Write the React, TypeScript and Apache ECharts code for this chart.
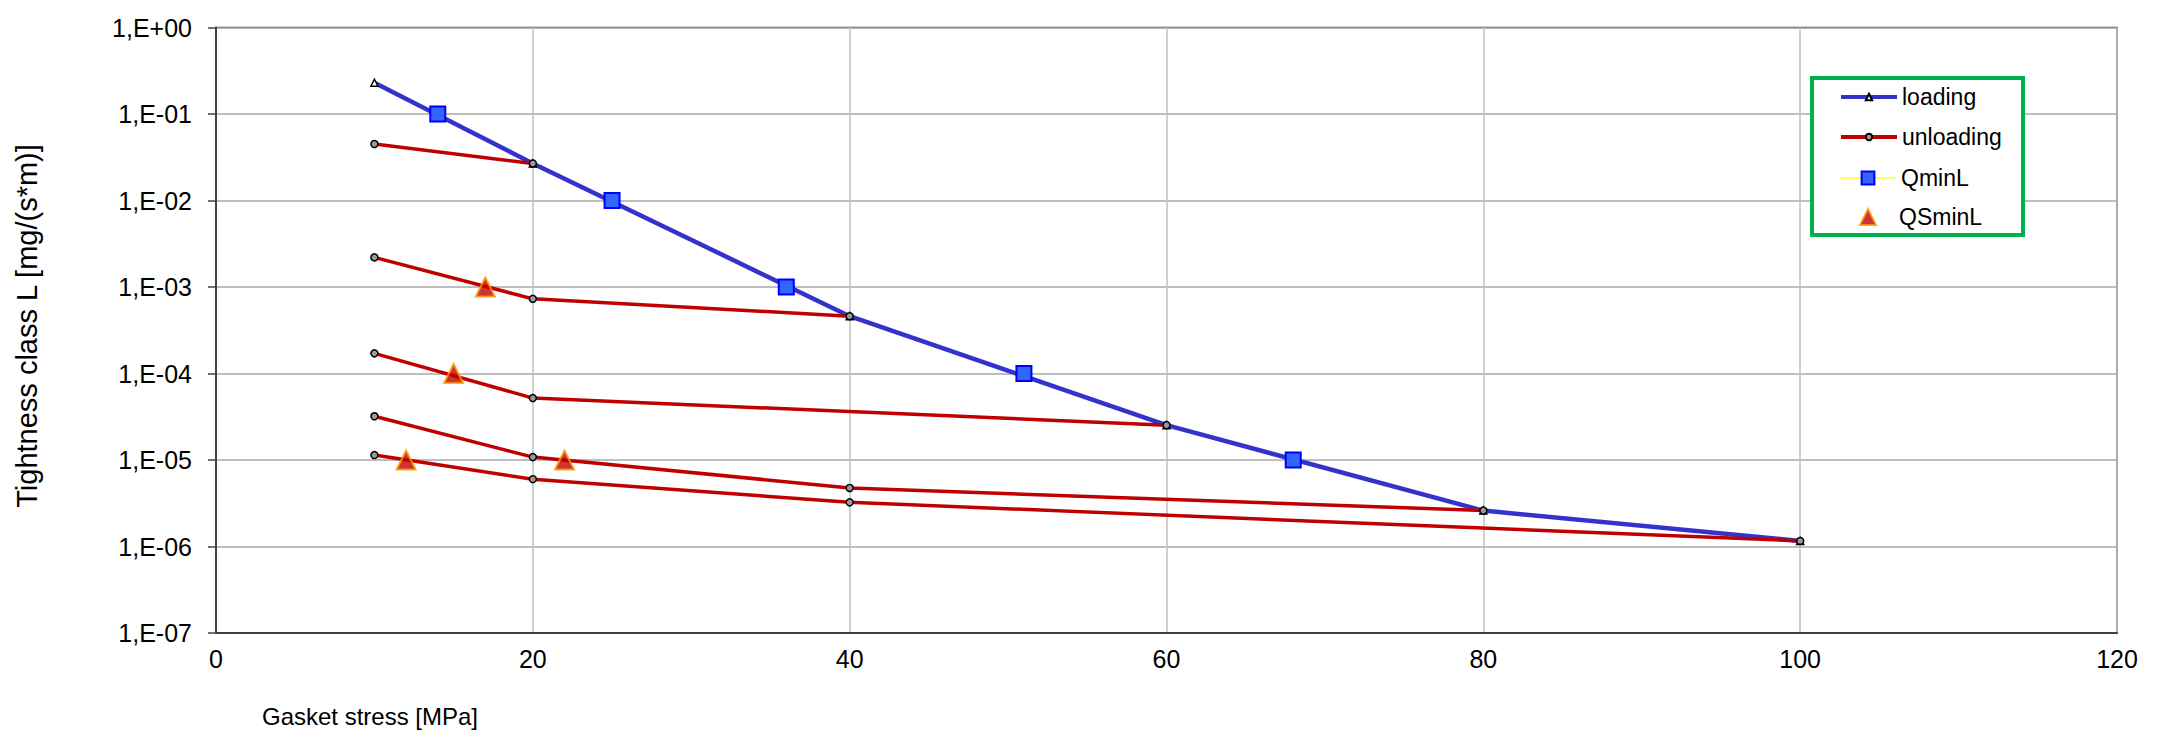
import React, { useEffect, useRef } from "react";
import * as echarts from "echarts";

// ---- data ----
const loadingX = [10, 20, 40, 60, 80, 100];
const loadingY = [2.3e-1, 2.68e-2, 4.6e-4, 2.53e-5, 2.6e-6, 1.16e-6];

const unloading1X = [10, 20];
const unloading1Y = [4.5e-2, 2.68e-2];
const unloading2X = [10, 20, 40];
const unloading2Y = [2.2e-3, 7.3e-4, 4.6e-4];
const unloading3X = [10, 20, 60];
const unloading3Y = [1.71e-4, 5.2e-5, 2.53e-5];
const unloading4X = [10, 20, 40, 80];
const unloading4Y = [3.2e-5, 1.08e-5, 4.75e-6, 2.6e-6];
const unloading5X = [10, 20, 40, 100];
const unloading5Y = [1.14e-5, 6.0e-6, 3.24e-6, 1.16e-6];

const qminLX = [14, 25, 36, 51, 68];
const qminLY = [1e-1, 1e-2, 1e-3, 1e-4, 1e-5];

const qsminLX = [17, 15, 22, 12];
const qsminLY = [1e-3, 1e-4, 1e-5, 1e-5];

const yTickLabels = ["1,E-07", "1,E-06", "1,E-05", "1,E-04", "1,E-03", "1,E-02", "1,E-01", "1,E+00"];

const xTitle = "Gasket stress [MPa]";
const yTitle = "Tightness class L [mg/(s*m)]";

const zip = (xs: number[], ys: number[]) => xs.map((x, i) => [x, ys[i]]);

const FONT = "'Liberation Sans', Arial, sans-serif";
const BLUE = "#3333CC";
const RED = "#C00000";

export default function App() {
  const ref = useRef<HTMLDivElement>(null);

  useEffect(() => {
    document.body.style.margin = "0";
    if (!ref.current) return;
    const chart = echarts.init(ref.current, undefined, { renderer: "svg" });

    const smallMarker = {
      color: "#9a9a9a",
      borderColor: "#000000",
      borderWidth: 1.5,
    };

    const unloadingSets = [
      zip(unloading1X, unloading1Y),
      zip(unloading2X, unloading2Y),
      zip(unloading3X, unloading3Y),
      zip(unloading4X, unloading4Y),
      zip(unloading5X, unloading5Y),
    ];

    const legendText = { fontSize: 23, color: "#000", fontFamily: FONT, lineHeight: 24 };

    const option: any = {
      animation: false,
      backgroundColor: "#ffffff",
      textStyle: { fontFamily: FONT },
      grid: {
        left: 216,
        top: 27.5,
        width: 1901,
        height: 605.5,
        containLabel: false,
        outerBoundsMode: "none",
        show: true,
        borderColor: "#404040",
        borderWidth: 1.5,
        backgroundColor: "transparent",
      },
      xAxis: {
        type: "value",
        min: 0,
        max: 120,
        interval: 20,
        axisLine: { show: true, lineStyle: { color: "#404040", width: 2 } },
        axisTick: { show: false },
        axisLabel: { fontSize: 25, color: "#000", margin: 13, fontFamily: FONT },
        splitLine: { show: true, lineStyle: { color: "#c0c0c0", width: 1.5 } },
      },
      yAxis: {
        type: "log",
        logBase: 10,
        min: 1e-7,
        max: 1,
        interval: 1,
        axisLine: { show: true, lineStyle: { color: "#404040", width: 2 } },
        axisTick: { show: true, length: 8, lineStyle: { color: "#404040", width: 1.5 } },
        minorTick: { show: false },
        axisLabel: {
          fontSize: 25,
          color: "#000",
          margin: 24,
          fontFamily: FONT,
          formatter: (v: number) => {
            const e = Math.round(Math.log10(v));
            return yTickLabels[e + 7] ?? "";
          },
        },
        splitLine: { show: true, lineStyle: { color: "#a8a8a8", width: 1.5 } },
      },
      legend: [
        {
          orient: "vertical",
          left: 1834,
          top: 80,
          itemWidth: 56,
          itemHeight: 8,
          itemGap: 16,
          selectedMode: false,
          textStyle: legendText,
          data: [
            { name: "loading", lineStyle: { width: 4 } },
            { name: "unloading", lineStyle: { width: 4 } },
          ],
        },
        {
          orient: "vertical",
          left: 1834,
          top: 161,
          itemWidth: 56,
          itemHeight: 16,
          selectedMode: false,
          textStyle: legendText,
          data: [{ name: "QminL", lineStyle: { width: 2, opacity: 1, color: "#FFFF66" } }],
        },
        {
          orient: "vertical",
          left: 1854,
          top: 200,
          itemWidth: 16,
          itemHeight: 16,
          selectedMode: false,
          textStyle: { ...legendText, padding: [0, 0, 0, 18] },
          data: [{ name: "QSminL" }],
        },
      ],
      graphic: [
        {
          type: "rect",
          z: 3,
          shape: { x: 1812, y: 78, width: 211, height: 157 },
          style: { fill: "#ffffff", stroke: "#00B050", lineWidth: 4 },
        },
        {
          type: "text",
          x: 27,
          y: 326,
          rotation: Math.PI / 2,
          style: {
            text: yTitle,
            fontSize: 29,
            fontFamily: FONT,
            fill: "#000",
            textAlign: "center",
            textVerticalAlign: "middle",
          },
        },
        {
          type: "text",
          x: 370,
          y: 716,
          style: {
            text: xTitle,
            fontSize: 24,
            fontFamily: FONT,
            fill: "#000",
            textAlign: "center",
            textVerticalAlign: "middle",
          },
        },
      ],
      series: [
        {
          name: "loading",
          type: "line",
          z: 2,
          data: zip(loadingX, loadingY),
          symbol: "triangle",
          symbolSize: 7,
          showAllSymbol: true,
          lineStyle: { color: BLUE, width: 4.5 },
          itemStyle: { color: "#ffffff", borderColor: "#000", borderWidth: 1.5 },
          emphasis: { disabled: true },
          silent: true,
        },
        ...unloadingSets.map((d) => ({
          name: "unloading",
          type: "line",
          z: 3,
          data: d,
          symbol: "circle",
          symbolSize: 7,
          showAllSymbol: true,
          lineStyle: { color: RED, width: 3.5 },
          itemStyle: smallMarker,
          emphasis: { disabled: true },
          silent: true,
        })),
        {
          name: "QminL",
          type: "line",
          z: 4,
          data: zip(qminLX, qminLY),
          symbol: "rect",
          symbolSize: 15,
          showAllSymbol: true,
          lineStyle: { color: "#FFFF66", width: 1, opacity: 0 },
          itemStyle: { color: "#3366FF", borderColor: "#0000FF", borderWidth: 2 },
          emphasis: { disabled: true },
          silent: true,
        },
        {
          name: "QSminL",
          type: "scatter",
          z: 5,
          data: zip(qsminLX, qsminLY),
          symbol: "triangle",
          symbolSize: 19,
          itemStyle: { color: RED, borderColor: "#FF9900", borderWidth: 2 },
          emphasis: { disabled: true },
          silent: true,
        },
      ],
    };

    chart.setOption(option);
    return () => chart.dispose();
  }, []);

  return (
    <div
      ref={ref}
      style={{ position: "absolute", left: 0, top: 0, width: 2158, height: 732 }}
    />
  );
}
